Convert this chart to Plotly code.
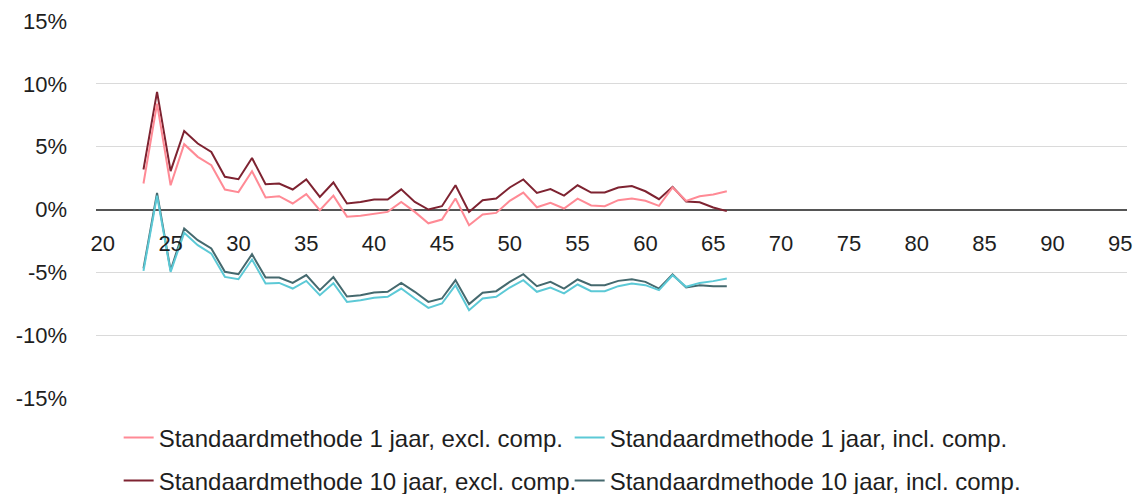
import plotly.graph_objects as go

ages = list(range(23, 67))

excl_1j = [2.07, 8.43, 1.93, 5.2, 4.19, 3.52, 1.59, 1.38, 3.05, 0.95, 1.06, 0.48, 1.22, -0.05, 1.1,
           -0.57, -0.5, -0.32, -0.19, 0.6, -0.19, -1.1, -0.8, 0.87, -1.25, -0.4, -0.27, 0.69, 1.35,
           0.18, 0.53, 0.08, 0.87, 0.32, 0.26, 0.74, 0.87, 0.69, 0.29, 1.75, 0.69, 1.06, 1.19, 1.45]
excl_10j = [3.18, 9.36, 3.05, 6.25, 5.25, 4.58, 2.6, 2.41, 4.1, 2.01, 2.07, 1.59, 2.39, 1.0, 2.15,
            0.48, 0.6, 0.8, 0.8, 1.6, 0.6, 0.0, 0.26, 1.93, -0.19, 0.74, 0.87, 1.75, 2.39,
            1.32, 1.62, 1.11, 1.93, 1.35, 1.35, 1.75, 1.86, 1.45, 0.82, 1.8, 0.64, 0.58, 0.16, -0.13]
incl_1j = [-4.88, 1.1, -4.96, -1.86, -2.84, -3.51, -5.36, -5.55, -3.98, -5.89, -5.84, -6.29, -5.68, -6.82, -5.87,
           -7.35, -7.22, -7.03, -6.95, -6.29, -7.08, -7.83, -7.48, -6.02, -8.01, -7.08, -6.95, -6.21, -5.62,
           -6.55, -6.21, -6.68, -5.97, -6.5, -6.5, -6.1, -5.89, -6.02, -6.42, -5.23, -6.15, -5.84, -5.7, -5.49]
incl_10j = [-4.69, 1.32, -4.85, -1.51, -2.44, -3.1, -4.96, -5.15, -3.56, -5.41, -5.41, -5.84, -5.22, -6.42, -5.38,
            -6.92, -6.82, -6.6, -6.55, -5.84, -6.55, -7.35, -7.08, -5.62, -7.53, -6.63, -6.5, -5.76, -5.15,
            -6.1, -5.76, -6.29, -5.57, -6.02, -6.02, -5.68, -5.55, -5.76, -6.29, -5.17, -6.21, -6.02, -6.1, -6.1]

names = ["Standaardmethode 1 jaar, excl. comp.",
         "Standaardmethode 1 jaar, incl. comp.",
         "Standaardmethode 10 jaar, excl. comp.",
         "Standaardmethode 10 jaar, incl. comp."]
colors = ["#FF8A95", "#5CC9D6", "#7E2331", "#45696E"]

x_ticks = list(range(20, 100, 5))
y_ticks = [-15, -10, -5, 0, 5, 10, 15]
y_labels = ["-15%", "-10%", "-5%", "0%", "5%", "10%", "15%"]

FONT = "Liberation Sans, Arial, sans-serif"
TXT = "#1E1E1E"

fig = go.Figure()
series = [(excl_10j, 2, "legend2"), (incl_10j, 3, "legend2"), (excl_1j, 0, "legend"), (incl_1j, 1, "legend")]
for vals, idx, lg in series:
    fig.add_trace(go.Scatter(x=ages, y=vals, mode="lines", name=names[idx],
                             line=dict(color=colors[idx], width=2), legend=lg))

leg_common = dict(orientation="h", xref="container", yref="container", x=0.0975, xanchor="left",
                  yanchor="middle", entrywidth=406, entrywidthmode="pixels",
                  font=dict(size=24, family=FONT, color=TXT), traceorder="normal",
                  bgcolor="rgba(0,0,0,0)")

fig.update_layout(
    template="none",
    width=1135, height=486,
    margin=dict(l=88, r=16, t=13, b=96),
    plot_bgcolor="white", paper_bgcolor="white",
    font=dict(family=FONT, color=TXT, size=22),
    showlegend=True,
    legend=dict(y=0.1152, **leg_common),
    legend2=dict(y=0.0267, **leg_common),
    xaxis=dict(range=[19.5, 95.5], tickvals=x_ticks, showgrid=False, zeroline=False, showline=False,
               anchor="free", position=0.5, ticks="", ticklabelstandoff=18, automargin=False,
               tickfont=dict(size=22, family=FONT, color=TXT)),
    yaxis=dict(range=[-15, 15], tickvals=y_ticks, ticktext=y_labels, showgrid=True, gridcolor="#DADADA",
               gridwidth=1, zeroline=True, zerolinecolor="#555555", zerolinewidth=2, showline=False,
               ticks="", ticklabelstandoff=28, automargin=False,
               tickfont=dict(size=22, family=FONT, color=TXT)),
)

fig.write_html("out.html")
